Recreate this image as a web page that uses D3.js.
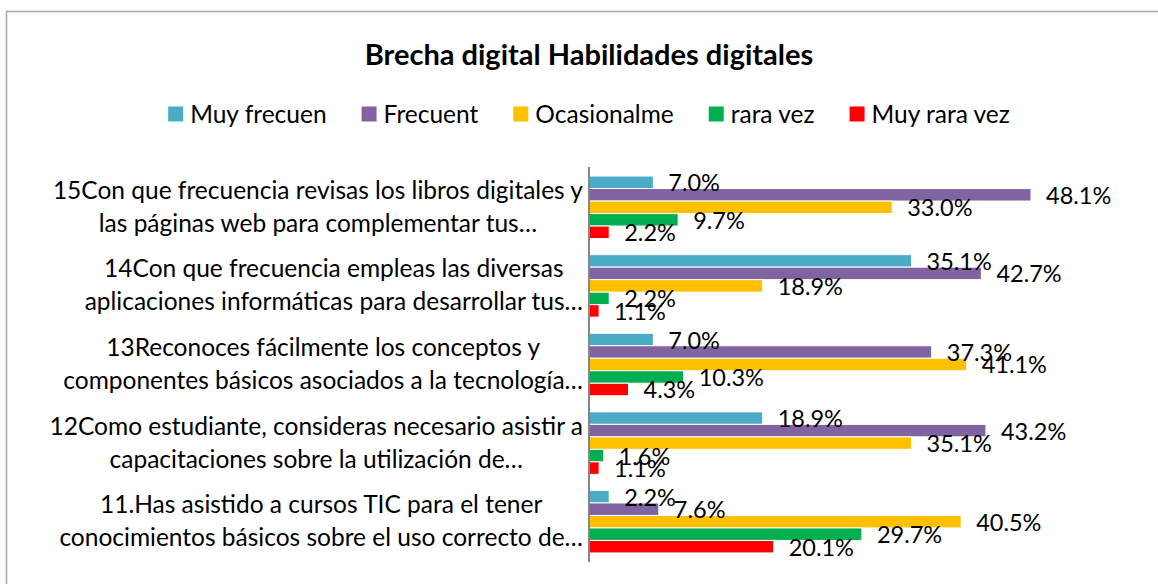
<!DOCTYPE html>
<html>
<head>
<meta charset="utf-8">
<script src="https://cdn.jsdelivr.net/npm/d3@7"></script>
<style>
  body { margin: 0; background: #fff; }
  text { font-family: Lato, "Open Sans", sans-serif; fill: #000; }
</style>
</head>
<body>
<svg width="1158" height="584"></svg>
<script>
// data (top to bottom)
const categories = ["15", "14", "13", "12", "11"];
const categoryLines = [
  ["15Con que frecuencia revisas los libros digitales y", "las páginas web para complementar tus…"],
  ["14Con que frecuencia empleas las diversas", "aplicaciones informáticas para desarrollar tus…"],
  ["13Reconoces fácilmente los conceptos y", "componentes básicos asociados a la tecnología…"],
  ["12Como estudiante, consideras necesario asistir a", "capacitaciones sobre la utilización de…"],
  ["11.Has asistido a cursos TIC para el tener", "conocimientos básicos sobre el uso correcto de…"]
];
const seriesNames  = ["Muy frecuen", "Frecuent", "Ocasionalme", "rara vez", "Muy rara vez"];
const seriesColors = ["#4bacc6", "#8064a2", "#ffc000", "#00b050", "#ff0000"];
const muyFrecuen   = [7.0, 35.1, 7.0, 18.9, 2.2];
const frecuent     = [48.1, 42.7, 37.3, 43.2, 7.6];
const ocasional    = [33.0, 18.9, 41.1, 35.1, 40.5];
const raraVez      = [9.7, 2.2, 10.3, 1.6, 29.7];
const muyRaraVez   = [2.2, 1.1, 4.3, 1.1, 20.1];
const seriesValues = [muyFrecuen, frecuent, ocasional, raraVez, muyRaraVez];

const svg = d3.select("svg");

// chart border (runs off the bottom/right edge like the original)
svg.append("rect")
    .attr("x", 6.5).attr("y", 11.5)
    .attr("width", 1170).attr("height", 600)
    .attr("fill", "none")
    .attr("stroke", "#a6a6a6")
    .attr("stroke-width", 1.5);

svg.append("text")
    .attr("x", 589).attr("y", 65)
    .attr("text-anchor", "middle")
    .style("font-size", "29px")
    .style("font-weight", "bold")
    .text("Brecha digital Habilidades digitales");

// legend, laid out from measured text widths and centred
const legend = svg.append("g");
let lx = 0;
seriesNames.forEach((name, i) => {
  const item = legend.append("g").attr("transform", `translate(${lx},0)`);
  item.append("rect")
      .attr("x", 0).attr("y", -7.5)
      .attr("width", 15).attr("height", 15)
      .attr("fill", seriesColors[i]);
  const t = item.append("text")
      .attr("x", 22).attr("y", 8.5)
      .style("font-size", "24.5px")
      .text(name);
  lx += 22 + t.node().getComputedTextLength() + 35;
});
lx -= 35;
legend.attr("transform", `translate(${589 - lx / 2},114)`);

const x0 = 589;
const x = d3.scaleLinear().domain([0, 48.1]).range([x0, 1031]);
const y = d3.scaleBand().domain(categories).range([168, 561])
    .paddingInner(0.205).paddingOuter(0.1025);
const ys = d3.scaleBand().domain(d3.range(seriesNames.length)).range([0, y.bandwidth()]);

const groups = svg.selectAll(".grp")
  .data(categories)
  .enter().append("g")
    .attr("class", "grp")
    .attr("transform", d => `translate(0,${y(d)})`);

groups.each(function(cat, ci) {
  const g = d3.select(this);
  const rows = seriesValues.map((vals, si) => ({si: si, v: vals[ci]}));
  g.selectAll("rect")
    .data(rows)
    .enter().append("rect")
      .attr("x", x(0))
      .attr("y", d => ys(d.si))
      .attr("width", d => x(d.v) - x(0))
      .attr("height", ys.bandwidth())
      .attr("fill", d => seriesColors[d.si])
      .attr("stroke", "#fff")
      .attr("stroke-width", 1);
});

// value labels drawn after all bars so they sit on top
groups.each(function(cat, ci) {
  const g = d3.select(this);
  const rows = seriesValues.map((vals, si) => ({si: si, v: vals[ci]}));
  g.selectAll(".lbl")
    .data(rows)
    .enter().append("text")
      .attr("class", "lbl")
      .attr("x", d => x(d.v) + 15)
      .attr("y", d => ys(d.si) + ys.bandwidth() / 2 + 9)
      .style("font-size", "23.5px")
      .text(d => d.v.toFixed(1) + "%");
});

// category labels: two centred lines, block right-aligned to the axis
groups.each(function(cat, ci) {
  const g = d3.select(this);
  const lines = categoryLines[ci];
  const mid = y.bandwidth() / 2;
  const ts = lines.map((ln, li) => g.append("text")
      .attr("y", mid + (li === 0 ? -17 : 16) + 8.5)
      .attr("text-anchor", "middle")
      .style("font-size", "24.5px")
      .text(ln));
  const w = d3.max(ts, t => t.node().getComputedTextLength());
  ts.forEach(t => t.attr("x", 583 - w / 2));
});

// vertical category axis
svg.append("line")
    .attr("x1", x0).attr("x2", x0)
    .attr("y1", 167).attr("y2", 562)
    .attr("stroke", "#868686")
    .attr("stroke-width", 2);
</script>
</body>
</html>
